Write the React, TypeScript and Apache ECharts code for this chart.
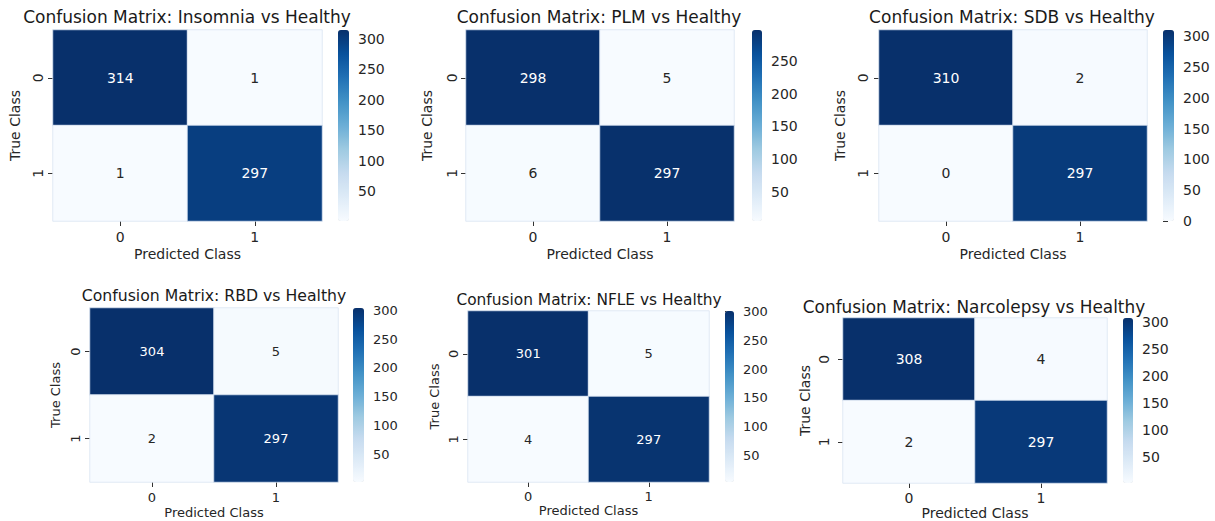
import React, { useEffect, useRef } from "react";
import * as echarts from "echarts";

// ---- data ----
const classLabels = ["0", "1"];
const panelTitles = [
  "Confusion Matrix: Insomnia vs Healthy",
  "Confusion Matrix: PLM vs Healthy",
  "Confusion Matrix: SDB vs Healthy",
  "Confusion Matrix: RBD vs Healthy",
  "Confusion Matrix: NFLE vs Healthy",
  "Confusion Matrix: Narcolepsy vs Healthy",
];
const insomnia = [
  [314, 1],
  [1, 297],
];
const plm = [
  [298, 5],
  [6, 297],
];
const sdb = [
  [310, 2],
  [0, 297],
];
const rbd = [
  [304, 5],
  [2, 297],
];
const nfle = [
  [301, 5],
  [4, 297],
];
const narcolepsy = [
  [308, 4],
  [2, 297],
];
const matrices = [insomnia, plm, sdb, rbd, nfle, narcolepsy];
const colorbarTicks = [0, 50, 100, 150, 200, 250, 300];
const xAxisName = "Predicted Class";
const yAxisName = "True Class";

// ---- styling / layout ----
const blues = [
  "#f7fbff",
  "#deebf7",
  "#c6dbef",
  "#9ecae1",
  "#6baed6",
  "#4292c6",
  "#2171b5",
  "#08519c",
  "#08306b",
];
const FONT = "DejaVu Sans";
const TEXT = "#262626";

const layouts = [
  { gl: 53, gt: 30, gw: 269, gh: 191, cl: 338, cw: 11, tx: 187, ty: 17, tf: 17, fs: 14, xm: 9, ym: 8, xg: 26, yg: 31 },
  { gl: 466, gt: 30, gw: 268, gh: 191, cl: 752, cw: 10, tx: 599, ty: 17, tf: 17, fs: 14, xm: 9, ym: 7, xg: 26, yg: 32 },
  { gl: 879, gt: 30, gw: 268, gh: 191, cl: 1163, cw: 11, tx: 1012, ty: 17, tf: 17, fs: 14, xm: 9, ym: 9, xg: 26, yg: 32 },
  { gl: 90, gt: 308, gw: 248, gh: 174, cl: 353, cw: 11, tx: 214, ty: 295, tf: 15.7, fs: 13, xm: 9, ym: 8, xg: 24, yg: 28 },
  { gl: 468, gt: 311, gw: 241, gh: 171, cl: 725, cw: 9, tx: 589, ty: 300, tf: 15.4, fs: 13, xm: 8, ym: 8, xg: 22, yg: 27 },
  { gl: 843, gt: 318, gw: 264, gh: 165, cl: 1123, cw: 10, tx: 974, ty: 307, tf: 16.9, fs: 14, xm: 8, ym: 12, xg: 22, yg: 31 },
];

function buildOption() {
  const grid: any[] = [];
  const xAxis: any[] = [];
  const yAxis: any[] = [];
  const series: any[] = [];
  const visualMap: any[] = [];
  const graphic: any[] = [];

  matrices.forEach((m, i) => {
    const L = layouts[i];
    const flat = m.flat();
    const vmin = Math.min(...flat);
    const vmax = Math.max(...flat);
    const mid = (vmin + vmax) / 2;
    const ticks = colorbarTicks.filter((t) => t >= vmin && t <= vmax);
    const hg = 2 * i;
    const cg = 2 * i + 1;

    grid.push({ left: L.gl, top: L.gt, width: L.gw, height: L.gh, containLabel: false });
    grid.push({ left: L.cl, top: L.gt, width: L.cw, height: L.gh, containLabel: false });

    xAxis.push({
      type: "category",
      gridIndex: hg,
      data: classLabels,
      position: "bottom",
      axisLine: { show: false },
      axisTick: { show: true, alignWithLabel: true, length: 5, lineStyle: { color: "#333", width: 1 } },
      axisLabel: { fontSize: L.fs, color: TEXT, margin: L.xm, fontFamily: FONT },
      splitLine: { show: false },
      name: xAxisName,
      nameLocation: "middle",
      nameGap: L.xg,
      nameTextStyle: { fontSize: L.fs, color: TEXT, fontFamily: FONT },
    });
    yAxis.push({
      type: "category",
      gridIndex: hg,
      data: classLabels,
      inverse: true,
      axisLine: { show: false },
      axisTick: { show: true, alignWithLabel: true, length: 5, lineStyle: { color: "#333", width: 1 } },
      axisLabel: { fontSize: L.fs, color: TEXT, margin: L.ym, rotate: 90, fontFamily: FONT },
      splitLine: { show: false },
      name: yAxisName,
      nameLocation: "middle",
      nameRotate: 90,
      nameGap: L.yg,
      nameTextStyle: { fontSize: L.fs, color: TEXT, fontFamily: FONT },
    });

    xAxis.push({ type: "value", gridIndex: cg, show: false, min: 0, max: 1 });
    yAxis.push({
      type: "value",
      gridIndex: cg,
      position: "right",
      min: vmin,
      max: vmax,
      axisLine: { show: false },
      splitLine: { show: false },
      axisTick: { show: true, length: 5, lineStyle: { color: "#333", width: 1 }, customValues: ticks },
      axisLabel: { fontSize: L.fs, color: TEXT, margin: 9, fontFamily: FONT, customValues: ticks },
    });

    const data: any[] = [];
    m.forEach((row, r) => {
      row.forEach((v, c) => {
        data.push({
          value: [c, r, v],
          label: { color: v > mid ? "#ffffff" : TEXT },
        });
      });
    });

    series.push({
      type: "heatmap",
      xAxisIndex: hg,
      yAxisIndex: hg,
      data,
      itemStyle: { borderColor: "#dbe5f2", borderWidth: 0.8 },
      label: {
        show: true,
        fontSize: L.fs,
        fontFamily: FONT,
        formatter: (p: any) => String(p.value[2]),
      },
      emphasis: { disabled: true },
    });

    visualMap.push({
      type: "continuous",
      seriesIndex: i,
      min: vmin,
      max: vmax,
      orient: "vertical",
      left: L.cl,
      top: L.gt,
      itemWidth: L.cw,
      itemHeight: L.gh,
      padding: 0,
      calculable: false,
      hoverLink: false,
      inRange: { color: blues },
      textStyle: { fontSize: 0 },
    });

    graphic.push({
      type: "text",
      x: L.tx,
      y: L.ty,
      style: {
        text: panelTitles[i],
        fontSize: L.tf,
        fontFamily: FONT,
        fill: "#1a1a1a",
        align: "center",
        verticalAlign: "middle",
      },
    });
  });

  return {
    animation: false,
    backgroundColor: "#ffffff",
    textStyle: { fontFamily: FONT },
    grid,
    xAxis,
    yAxis,
    series,
    visualMap,
    graphic,
  };
}

export default function App() {
  const ref = useRef<HTMLDivElement>(null);
  useEffect(() => {
    document.body.style.margin = "0";
    if (!ref.current) return;
    const chart = echarts.init(ref.current, undefined, { renderer: "svg" });
    chart.setOption(buildOption() as any);
    return () => chart.dispose();
  }, []);
  return <div ref={ref} style={{ width: 1215, height: 521 }} />;
}
